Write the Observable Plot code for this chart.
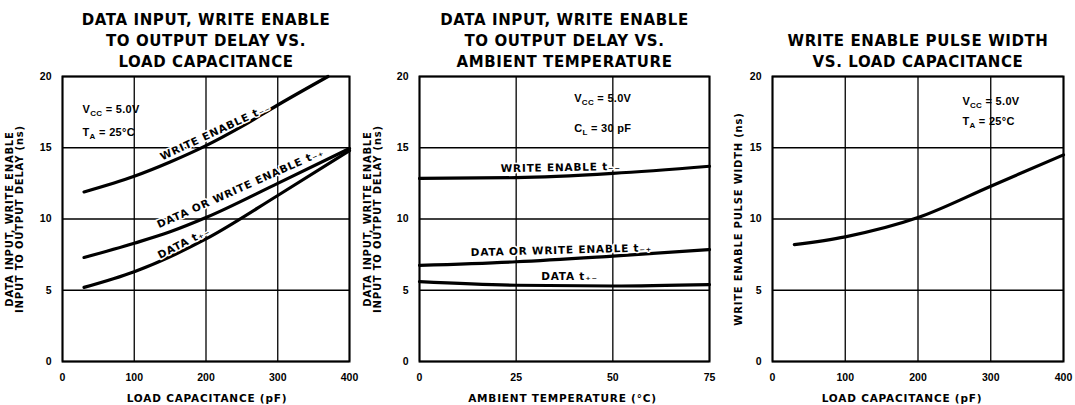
<!DOCTYPE html>
<html><head><meta charset="utf-8">
<script src="https://cdn.jsdelivr.net/npm/d3@7"></script>
<script src="https://cdn.jsdelivr.net/npm/@observablehq/plot@0.6"></script>
<style>
body{margin:0;background:#fff;width:1075px;height:405px;overflow:hidden;position:relative}
.panel{position:absolute;top:0}
.ttl text{font-family:"DejaVu Sans",sans-serif;letter-spacing:0.6px}
.lbl text{font-family:"DejaVu Sans",sans-serif;letter-spacing:0.8px}
.crv text{font-family:"DejaVu Sans",sans-serif;letter-spacing:0.8px}
.note text{font-family:"Liberation Sans",Arial,sans-serif;letter-spacing:0.3px}
</style></head><body>
<div id="p1" class="panel" style="left:0px"></div>
<div id="p2" class="panel" style="left:360px"></div>
<div id="p3" class="panel" style="left:718px"></div>
<script>
// ---------- data ----------
const yTicks = [0, 5, 10, 15, 20];
const capTicks = [0, 100, 200, 300, 400];
const tempTicks = [0, 25, 50, 75];

// Panel 1: delay vs load capacitance (pF -> ns)
const p1WriteEnableX = [30, 100, 150, 200, 250, 300, 370];
const p1WriteEnableY = [11.9, 13.0, 14.0, 15.15, 16.5, 18.0, 20.0];
const p1DataOrWeX = [30, 100, 150, 200, 300, 400];
const p1DataOrWeY = [7.3, 8.3, 9.1, 10.1, 12.5, 14.95];
const p1DataX = [30, 100, 200, 300, 400];
const p1DataY = [5.2, 6.3, 8.6, 11.65, 14.8];

// Panel 2: delay vs ambient temperature (°C -> ns)
const p2Temp = [0, 25, 50, 75];
const p2WriteEnableY = [12.85, 12.9, 13.2, 13.7];
const p2DataOrWeY = [6.75, 7.0, 7.4, 7.85];
const p2DataY = [5.6, 5.35, 5.3, 5.4];

// Panel 3: write enable pulse width vs load capacitance
const p3CapX = [30, 100, 200, 300, 400];
const p3WidthY = [8.2, 8.75, 10.1, 12.3, 14.5];

// Texts
const titles = [
  "DATA INPUT, WRITE ENABLE\nTO OUTPUT DELAY VS.\nLOAD CAPACITANCE",
  "DATA INPUT, WRITE ENABLE\nTO OUTPUT DELAY VS.\nAMBIENT TEMPERATURE",
  "WRITE ENABLE PULSE WIDTH\nVS. LOAD CAPACITANCE"
];
const yLabels = [
  "DATA INPUT, WRITE ENABLE\nINPUT TO OUTPUT DELAY (ns)",
  "DATA INPUT, WRITE ENABLE\nINPUT TO OUTPUT DELAY (ns)",
  "WRITE ENABLE PULSE WIDTH (ns)"
];
const xLabels = ["LOAD CAPACITANCE (pF)", "AMBIENT TEMPERATURE (°C)", "LOAD CAPACITANCE (pF)"];
const p1CurveLabels = ["WRITE ENABLE t₋₋", "DATA OR WRITE ENABLE t₋₊", "DATA t₊₋"];
const p1CurveLabelX = [213, 248, 169];
const p1CurveLabelY = [16.1, 12.15, 8.3];
const p1CurveLabelRot = [-25, -24, -27];
const p2CurveLabels = ["WRITE ENABLE t₋₋", "DATA OR WRITE ENABLE t₋₊", "DATA t₊₋"];
const p2CurveLabelX = [36.5, 36.7, 38.8];
const p2CurveLabelY = [13.6, 7.8, 5.95];
const p2CurveLabelRot = [-1, -1.5, 0];
const p1Notes = ["V_{CC} = 5.0V", "T_{A} = 25°C"];
const p1NoteX = [28, 28];
const p1NoteY = [17.7, 16.1];
const p2Notes = ["V_{CC} = 5.0V", "C_{L} = 30 pF"];
const p2NoteX = [40, 40];
const p2NoteY = [18.45, 16.35];
const p3Notes = ["V_{CC} = 5.0V", "T_{A} = 25°C"];
const p3NoteX = [261, 261];
const p3NoteY = [18.25, 16.85];

// ---------- helpers ----------
const zip = (xs, ys) => xs.map((x, i) => ({x, y: ys[i]}));
const zipLabels = (t, xs, ys, r) => t.map((s, i) => ({text: s, x: xs[i], y: ys[i], r: r ? r[i] : 0}));

function subscripts(svg) {
  svg.querySelectorAll("text").forEach(t => {
    const s = t.textContent;
    if (!s.includes("_{") || t.querySelector("tspan")) return;
    t.textContent = "";
    const parts = s.split(/(_\{[^}]*\})/).filter(p => p);
    let wasSub = false;
    for (const p of parts) {
      const ts = document.createElementNS("http://www.w3.org/2000/svg", "tspan");
      if (p.startsWith("_{")) {
        ts.textContent = p.slice(2, -1);
        ts.setAttribute("font-size", "8");
        ts.setAttribute("dy", "3");
        wasSub = true;
      } else {
        ts.textContent = p;
        if (wasSub) ts.setAttribute("dy", "-3");
        wasSub = false;
      }
      t.appendChild(ts);
    }
  });
}

function makePanel(o) {
  const marks = [
    Plot.gridX(o.xTicks, {stroke: "#000", strokeOpacity: 1, strokeWidth: 1.3}),
    Plot.gridY(yTicks, {stroke: "#000", strokeOpacity: 1, strokeWidth: 1.3}),
    Plot.frame({stroke: "#000", strokeWidth: 2}),
    Plot.axisX(o.xTicks, {tickSize: 0, tickPadding: 12, fontSize: 10.5, label: null}),
    Plot.axisY(yTicks, {tickSize: 0, tickPadding: 11, fontSize: 10.5, label: null}),
    ...o.series.map(s => Plot.line(s, {x: "x", y: "y", curve: "monotone-x", stroke: "#000", strokeWidth: 3.2})),
  ];
  if (o.curveLabels) marks.push(Plot.text(o.curveLabels, {
    x: "x", y: "y", text: "text", rotate: "r", fontSize: 10.5, fill: "#000",
    stroke: "#fff", strokeWidth: 3, paintOrder: "stroke", className: "crv"
  }));
  marks.push(Plot.text(o.notes, {
    x: "x", y: "y", text: "text", textAnchor: "start", fontSize: 11, fill: "#000", className: "note"
  }));
  marks.push(Plot.text([o.title], {
    frameAnchor: "top", dy: o.titleDy, lineAnchor: "top", lineHeight: 1.4,
    fontSize: 15, fill: "#000", className: "ttl"
  }));
  marks.push(Plot.text([o.ylabel], {
    frameAnchor: "left", dx: o.ylabelDx, rotate: -90, lineHeight: 1.0,
    textAnchor: "middle", lineAnchor: "middle",
    fontSize: 10, fill: "#000", className: "lbl"
  }));
  marks.push(Plot.text([o.xlabel], {
    frameAnchor: "bottom", dy: 37, dx: o.xlabelDx || 0, textAnchor: "middle", lineAnchor: "middle",
    fontSize: 10.5, fill: "#000", className: "lbl"
  }));
  const svg = Plot.plot({
    width: o.width, height: 405,
    marginLeft: o.ml, marginRight: o.mr, marginTop: 76, marginBottom: 44,
    x: {domain: o.xDomain},
    y: {domain: [0, 20]},
    style: {fontFamily: "'Liberation Sans', Arial, sans-serif", fontWeight: "bold", fontSize: "10.5px", color: "#000", background: "transparent", overflow: "visible"},
    marks
  });
  subscripts(svg);
  document.getElementById(o.el).appendChild(svg);
}

makePanel({
  el: "p1", width: 360, ml: 62, mr: 11, xDomain: [0, 400], xTicks: capTicks,
  series: [zip(p1WriteEnableX, p1WriteEnableY), zip(p1DataOrWeX, p1DataOrWeY), zip(p1DataX, p1DataY)],
  curveLabels: zipLabels(p1CurveLabels, p1CurveLabelX, p1CurveLabelY, p1CurveLabelRot),
  notes: zipLabels(p1Notes, p1NoteX, p1NoteY),
  title: titles[0], titleDy: -66, ylabel: yLabels[0], ylabelDx: -48, xlabel: xLabels[0], xlabelDx: 1
});
makePanel({
  el: "p2", width: 358, ml: 59, mr: 9, xDomain: [0, 75], xTicks: tempTicks,
  series: [zip(p2Temp, p2WriteEnableY), zip(p2Temp, p2DataOrWeY), zip(p2Temp, p2DataY)],
  curveLabels: zipLabels(p2CurveLabels, p2CurveLabelX, p2CurveLabelY, p2CurveLabelRot),
  notes: zipLabels(p2Notes, p2NoteX, p2NoteY),
  title: titles[1], titleDy: -66, ylabel: yLabels[1], ylabelDx: -47, xlabel: xLabels[1], xlabelDx: -2
});
makePanel({
  el: "p3", width: 357, ml: 54, mr: 12, xDomain: [0, 400], xTicks: capTicks,
  series: [zip(p3CapX, p3WidthY)],
  notes: zipLabels(p3Notes, p3NoteX, p3NoteY),
  title: titles[2], titleDy: -45, ylabel: yLabels[2], ylabelDx: -34, xlabel: xLabels[2], xlabelDx: -16
});
</script>
</body></html>
